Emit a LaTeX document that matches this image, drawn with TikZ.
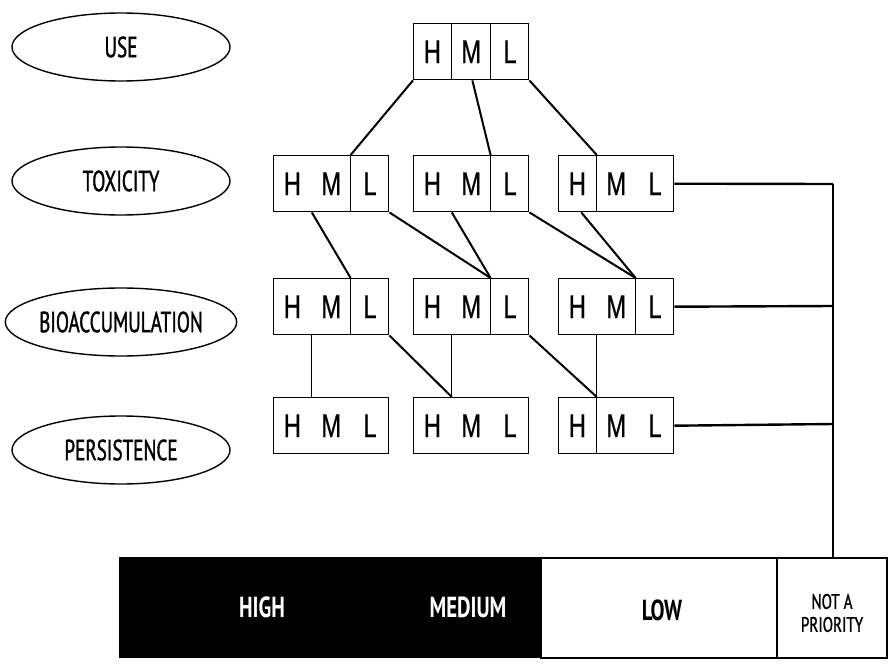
\documentclass[tikz,border=0pt]{standalone}
\usepackage{fontspec}
\usetikzlibrary{calc,shapes.geometric}
\newfontfamily\hmlfont[FakeStretch=0.72,FakeBold=0.6]{Liberation Sans}
\newfontfamily\labfont[FakeStretch=0.66,FakeBold=1.2]{PT Sans}
\newfontfamily\npfont[FakeStretch=0.72,FakeBold=1.2]{PT Sans}
\newfontfamily\barfont[FakeStretch=0.72]{PT Sans Bold}
\tikzset{
  hml/.style={draw, line width=1.4pt, minimum width=115pt, minimum height=56pt, inner sep=0pt, anchor=north west},
  lab/.style={draw, ellipse, line width=1.4pt, minimum width=218pt, minimum height=68pt, inner sep=0pt, font=\labfont\fontsize{29}{29}\selectfont},
  conn/.style={line width=2pt},
  thin/.style={line width=1.3pt},
  side/.style={line width=2.4pt},
  letter/.style={font=\hmlfont\fontsize{33}{33}\selectfont},
  bartext/.style={font=\barfont\fontsize{29}{29}\selectfont}
}
\newcommand{\hmlbox}[4]{%
  \node[hml] (#1) at (#2,#3) {};
  \node[letter] at ($(#1.west)!1/6!(#1.east)$) {H};
  \node[letter] at ($(#1.west)!1/2!(#1.east)$) {M};
  \node[letter] at ($(#1.west)!5/6!(#1.east)$) {L};
  \foreach \f in {#4} {\draw[line width=1.2pt] ($(#1.north west)!\f!(#1.north east)$) -- ($(#1.south west)!\f!(#1.south east)$);}
}
\begin{document}
\begin{tikzpicture}[x=1pt,y=-1pt]
\useasboundingbox (0,0) rectangle (895,664);
% labels
\node[lab] (luse) at (121,47) {USE};
\node[lab] (ltox) at (121,181) {TOXICITY};
\node[lab] (lbio) at (121,322) {BIOACCUMULATION};
\node[lab] (lper) at (121,450) {PERSISTENCE};
% boxes
\hmlbox{u}{413}{23}{1/3,2/3}
\hmlbox{t1}{273}{155}{2/3}
\hmlbox{t2}{413}{155}{2/3}
\hmlbox{t3}{558}{155}{1/3}
\hmlbox{b1}{273}{278}{2/3}
\hmlbox{b2}{413}{278}{2/3}
\hmlbox{b3}{558}{278}{2/3}
\hmlbox{p1}{273}{397}{}
\hmlbox{p2}{413}{397}{}
\hmlbox{p3}{558}{397}{1/3}
% bar
\node[draw, line width=1.2pt, fill=black, minimum width=421pt, minimum height=100pt, inner sep=0pt, anchor=north west] (hm) at (119,557) {};
\node[draw, line width=2pt, fill=white, minimum width=236pt, minimum height=100pt, inner sep=0pt, anchor=north west] (low) at (540,557) {};
\node[draw, line width=2pt, fill=white, minimum width=110pt, minimum height=100pt, inner sep=0pt, anchor=north west] (np) at (776,557) {};
\node[text=white, bartext] at (262,607) {HIGH};
\node[text=white, bartext] at (468,607) {MEDIUM};
\node[bartext] at (662,610) {LOW};
\node[font=\npfont\fontsize{21}{23}\selectfont, align=center] at (832,613) {NOT A\\PRIORITY};
% connectors USE -> TOXICITY
\draw[conn] (u.south west) -- ($(t1.north west)!2/3!(t1.north east)$);
\draw[conn] ($(u.south west)!0.51!(u.south east)$) -- ($(t2.north west)!2/3!(t2.north east)$);
\draw[conn] (u.south east) -- ($(t3.north west)!1/3!(t3.north east)$);
% TOXICITY -> BIOACCUMULATION
\draw[conn] ($(t1.south west)!1/3!(t1.south east)$) -- ($(b1.north west)!2/3!(b1.north east)$);
\draw[conn] (t1.south east) -- ($(b2.north west)!2/3!(b2.north east)$);
\draw[conn] ($(t2.south west)!1/3!(t2.south east)$) -- ($(b2.north west)!2/3!(b2.north east)$);
\draw[conn] (t2.south east) -- ($(b3.north west)!2/3!(b3.north east)$);
\draw[conn] ($(t3.south west)!0.2!(t3.south east)$) -- ($(b3.north west)!2/3!(b3.north east)$);
% BIOACCUMULATION -> PERSISTENCE
\draw[thin] ($(b1.south west)!1/3!(b1.south east)$) -- ($(p1.north west)!1/3!(p1.north east)$);
\draw[conn] (b1.south east) -- ($(p2.north west)!1/3!(p2.north east)$);
\draw[thin] ($(b2.south west)!1/3!(b2.south east)$) -- ($(p2.north west)!1/3!(p2.north east)$);
\draw[conn] (b2.south east) -- ($(p3.north west)!1/3!(p3.north east)$);
\draw[thin] ($(b3.south west)!1/3!(b3.south east)$) -- ($(p3.north west)!1/3!(p3.north east)$);
% PERSISTENCE -> bar
\draw[thin] ($(p1.south west)!1/2!(p1.south east)$) -- ($(p1.south west)!1/2!(p1.south east)$ |- hm.north);
\draw[thin] ($(p2.south west)!0.52!(p2.south east)$) -- ($(p2.south west)!0.52!(p2.south east)$ |- hm.north);
\draw[thin] ($(p3.south west)!1/6!(p3.south east)$) -- ($(p3.south west)!1/6!(p3.south east)$ |- low.north);
% L -> not a priority
\coordinate (r1) at (833,184);
\coordinate (r2) at (833,306);
\coordinate (r3) at (833,424);
\draw[side] (t3.east) -- (r1);
\draw[side] (b3.east) -- (r2);
\draw[side] (p3.east) -- (r3);
\draw[side] (r1) -- (r1 |- np.north);
\end{tikzpicture}
\end{document}
